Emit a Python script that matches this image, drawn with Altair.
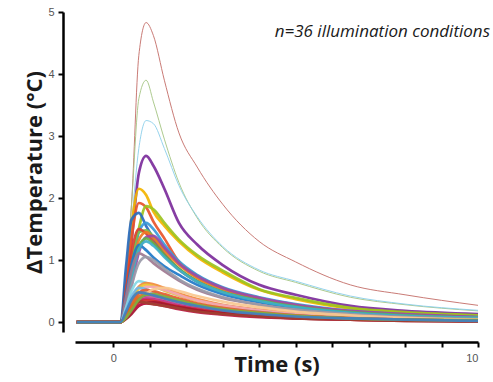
import altair as alt
import pandas as pd

# time grid (s)
T = [-1.0, 0.2, 0.35, 0.5, 0.7, 0.9, 1.1, 1.4, 1.8, 2.3, 3.0, 4.0, 5.0, 6.5, 8.0, 10.0]

# curve names, colours and values (ΔT in °C)
NAMES = [f"c{i:02d}" for i in range(1, 37)]
COLORS = [
    "#c4706a", "#a6c585", "#8ccfea", "#7c2c9b", "#f3b400", "#e8542a",
    "#9cc320", "#2a6cc0", "#3a9ad8", "#7cc04a", "#d9412c", "#f07a22",
    "#9b4aa8", "#5fb24a", "#1f78c8", "#3fb0c8", "#a07890", "#9a9aa8",
    "#86d8e4", "#f28a3c", "#f0c830", "#f2a4b6", "#70b8e8", "#a8a8a8",
    "#e86030", "#f8c890", "#8040a0", "#e070a0", "#c03080", "#d02828",
    "#a01830", "#c01848", "#a04030", "#e07020", "#80b040", "#4080c0",
]
WIDTHS = [1.0, 1.0, 1.0] + [2.7] * 33

VALUES = [
    [0, 0, 0.9, 1.9, 4.3, 4.83, 4.62, 3.9, 3.05, 2.5, 1.9, 1.3, 0.97, 0.6, 0.44, 0.27],
    [0, 0, 0.8, 1.9, 3.6, 3.9, 3.55, 2.95, 2.25, 1.68, 1.2, 0.82, 0.64, 0.4, 0.28, 0.18],
    [0, 0, 0.7, 1.6, 2.8, 3.25, 3.2, 2.8, 2.2, 1.7, 1.22, 0.84, 0.66, 0.42, 0.29, 0.19],
    [0, 0, 0.5, 1.3, 2.4, 2.68, 2.52, 2.15, 1.6, 1.25, 0.92, 0.6, 0.44, 0.26, 0.18, 0.13],
    [0, 0, 0.7, 1.55, 2.15, 2.05, 1.78, 1.55, 1.3, 1.05, 0.8, 0.52, 0.37, 0.22, 0.15, 0.1],
    [0, 0, 0.6, 1.35, 1.92, 1.85, 1.62, 1.35, 0.97, 0.75, 0.55, 0.37, 0.27, 0.16, 0.1, 0.07],
    [0, 0, 0.3, 0.8, 1.5, 1.87, 1.82, 1.6, 1.33, 1.08, 0.83, 0.53, 0.39, 0.23, 0.16, 0.11],
    [0, 0, 0.9, 1.65, 1.76, 1.55, 1.35, 1.1, 0.85, 0.65, 0.48, 0.34, 0.25, 0.15, 0.1, 0.06],
    [0, 0, 0.35, 0.88, 1.45, 1.6, 1.5, 1.25, 0.98, 0.76, 0.56, 0.4, 0.29, 0.18, 0.12, 0.08],
    [0, 0, 0.4, 0.95, 1.45, 1.48, 1.38, 1.18, 0.95, 0.72, 0.54, 0.38, 0.27, 0.17, 0.11, 0.07],
    [0, 0, 0.52, 1.12, 1.5, 1.43, 1.29, 1.08, 0.85, 0.66, 0.49, 0.35, 0.25, 0.15, 0.1, 0.06],
    [0, 0, 0.32, 0.79, 1.32, 1.45, 1.36, 1.15, 0.92, 0.71, 0.53, 0.38, 0.27, 0.17, 0.12, 0.07],
    [0, 0, 0.21, 0.59, 1.12, 1.37, 1.39, 1.2, 0.95, 0.74, 0.55, 0.39, 0.28, 0.18, 0.13, 0.08],
    [0, 0, 0.3, 0.74, 1.22, 1.35, 1.27, 1.08, 0.86, 0.66, 0.49, 0.35, 0.25, 0.16, 0.11, 0.07],
    [0, 0, 0.43, 0.93, 1.24, 1.16, 1.04, 0.9, 0.76, 0.6, 0.45, 0.32, 0.23, 0.14, 0.09, 0.05],
    [0, 0, 0.29, 0.72, 1.17, 1.3, 1.23, 1.05, 0.84, 0.65, 0.48, 0.34, 0.24, 0.15, 0.1, 0.07],
    [0, 0, 0.39, 0.83, 1.11, 1.05, 0.95, 0.82, 0.67, 0.52, 0.39, 0.28, 0.2, 0.12, 0.08, 0.04],
    [0, 0, 0.23, 0.58, 0.95, 1.05, 1.0, 0.86, 0.69, 0.54, 0.4, 0.28, 0.2, 0.13, 0.08, 0.05],
    [0, 0, 0.23, 0.5, 0.66, 0.63, 0.58, 0.51, 0.43, 0.35, 0.27, 0.19, 0.14, 0.09, 0.06, 0.03],
    [0, 0, 0.14, 0.35, 0.57, 0.63, 0.61, 0.55, 0.46, 0.37, 0.28, 0.2, 0.14, 0.09, 0.06, 0.04],
    [0, 0, 0.13, 0.33, 0.54, 0.6, 0.58, 0.51, 0.43, 0.34, 0.26, 0.18, 0.13, 0.08, 0.05, 0.03],
    [0, 0, 0.09, 0.24, 0.46, 0.57, 0.57, 0.52, 0.44, 0.35, 0.27, 0.19, 0.13, 0.08, 0.05, 0.03],
    [0, 0, 0.19, 0.41, 0.55, 0.53, 0.49, 0.43, 0.36, 0.29, 0.22, 0.16, 0.11, 0.07, 0.04, 0.02],
    [0, 0, 0.11, 0.28, 0.45, 0.5, 0.48, 0.43, 0.36, 0.29, 0.22, 0.16, 0.11, 0.07, 0.04, 0.03],
    [0, 0, 0.11, 0.29, 0.47, 0.52, 0.5, 0.45, 0.38, 0.3, 0.23, 0.16, 0.11, 0.07, 0.05, 0.03],
    [0, 0, 0.05, 0.15, 0.3, 0.45, 0.53, 0.55, 0.5, 0.42, 0.33, 0.24, 0.17, 0.11, 0.07, 0.04],
    [0, 0, 0.09, 0.23, 0.38, 0.42, 0.41, 0.37, 0.31, 0.25, 0.19, 0.13, 0.09, 0.06, 0.04, 0.02],
    [0, 0, 0.06, 0.17, 0.32, 0.39, 0.4, 0.37, 0.31, 0.25, 0.19, 0.13, 0.09, 0.06, 0.04, 0.02],
    [0, 0, 0.08, 0.21, 0.34, 0.38, 0.37, 0.33, 0.27, 0.22, 0.16, 0.11, 0.08, 0.05, 0.03, 0.02],
    [0, 0, 0.08, 0.19, 0.32, 0.35, 0.34, 0.3, 0.25, 0.2, 0.15, 0.1, 0.07, 0.04, 0.03, 0.02],
    [0, 0, 0.05, 0.13, 0.26, 0.31, 0.32, 0.29, 0.24, 0.19, 0.14, 0.09, 0.06, 0.04, 0.03, 0.02],
    [0, 0, 0.07, 0.17, 0.27, 0.3, 0.29, 0.26, 0.21, 0.16, 0.12, 0.08, 0.06, 0.04, 0.02, 0.01],
    [0, 0, 0.12, 0.25, 0.33, 0.31, 0.29, 0.26, 0.22, 0.17, 0.13, 0.09, 0.06, 0.04, 0.02, 0.01],
    [0, 0, 0.1, 0.25, 0.41, 0.45, 0.44, 0.39, 0.33, 0.26, 0.2, 0.14, 0.1, 0.06, 0.04, 0.02],
    [0, 0, 0.07, 0.19, 0.36, 0.44, 0.45, 0.41, 0.35, 0.28, 0.21, 0.15, 0.1, 0.06, 0.04, 0.03],
    [0, 0, 0.17, 0.36, 0.48, 0.46, 0.43, 0.38, 0.32, 0.26, 0.19, 0.13, 0.09, 0.06, 0.04, 0.02],
]

X_TICKS = list(range(0, 11))
Y_TICKS = [0, 1, 2, 3, 4, 5]
ANNOTATION = "n=36 illumination conditions"

rows = []
for k, (name, w, vals) in enumerate(zip(NAMES, WIDTHS, VALUES)):
    for t, v in zip(T, vals):
        rows.append({"curve": name, "order": k, "w": w, "t": t, "v": v})
df = pd.DataFrame(rows)

lines = alt.Chart(df).mark_line(interpolate="monotone", opacity=0.92).encode(
    x=alt.X(
        "t:Q",
        scale=alt.Scale(domain=[-1.05, 10], nice=False, zero=False),
        axis=alt.Axis(
            values=X_TICKS,
            labelExpr="datum.value == 0 || datum.value == 10 ? datum.label : ''",
            title="Time (s)",
            offset=10,
            titlePadding=-9,
            labelPadding=5,
        ),
    ),
    y=alt.Y(
        "v:Q",
        scale=alt.Scale(domain=[-0.16, 5], nice=False, zero=False),
        axis=alt.Axis(
            values=Y_TICKS,
            title="ΔTemperature (°C)",
            offset=12,
            titlePadding=1,
            labelPadding=4,
        ),
    ),
    color=alt.Color("curve:N", scale=alt.Scale(domain=NAMES, range=COLORS), legend=None),
    strokeWidth=alt.StrokeWidth("w:Q", scale=None),
    detail="curve:N",
    order="order:Q",
)

note = alt.Chart(pd.DataFrame({"txt": [ANNOTATION]})).mark_text(
    align="right",
    baseline="alphabetic",
    font="Open Sans",
    fontStyle="italic",
    fontSize=17,
    color="#1a1a1a",
).encode(text="txt:N", x=alt.value(415), y=alt.value(25))

chart = (
    alt.layer(lines, note)
    .properties(
        width=403,
        height=320,
        autosize=alt.AutoSizeParams(type="none"),
        padding={"left": 75, "top": 12, "right": 15, "bottom": 50},
    )
    .configure_view(stroke=None)
    .configure_axis(
        grid=False,
        domainColor="#000000",
        domainWidth=2.5,
        tickColor="#000000",
        tickWidth=2,
        tickSize=5,
        labelColor="#555555",
        labelFont="Liberation Sans",
        labelFontSize=11,
        titleFont="Open Sans",
        titleFontSize=22,
        titleFontWeight="bold",
        titleColor="#1a1a1a",
    )
)

chart.save("out.html", embed_options={"renderer": "svg", "actions": False})
